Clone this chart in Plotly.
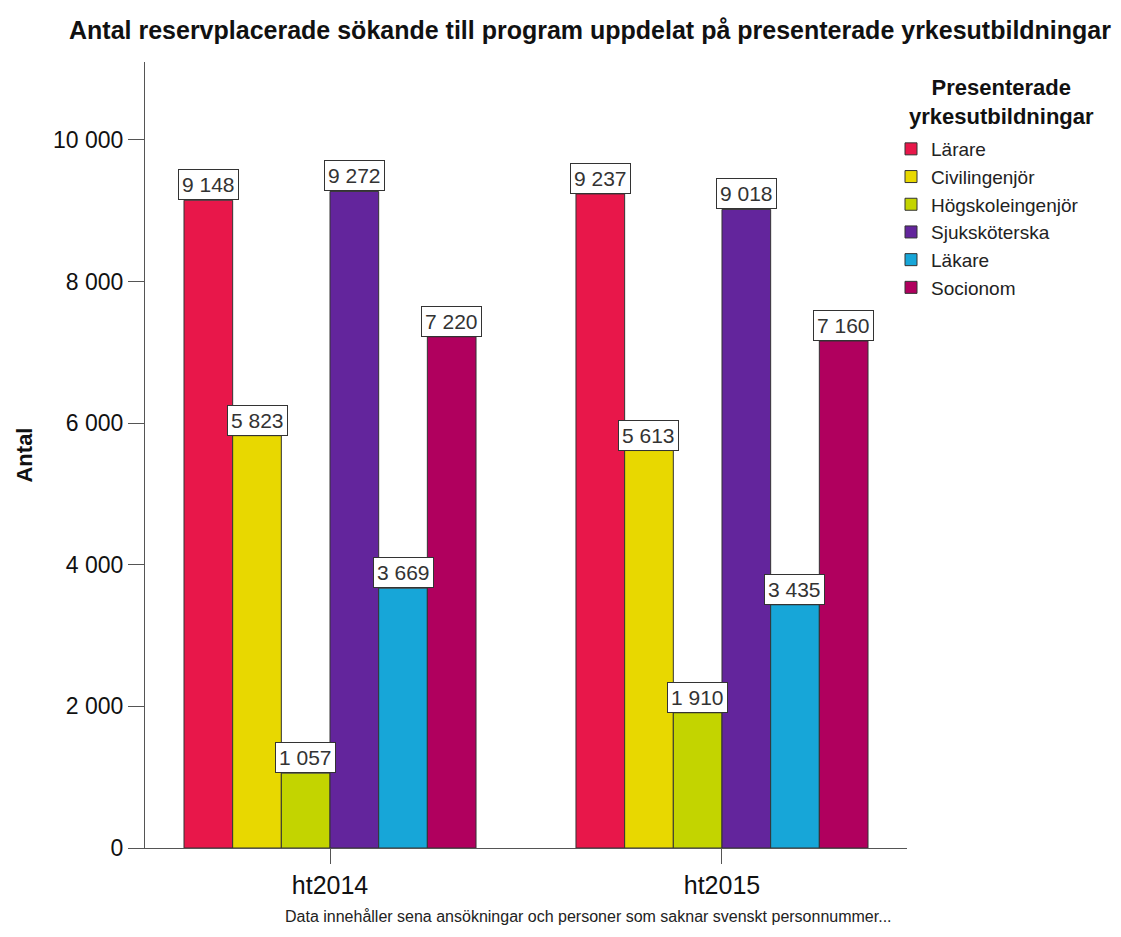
import plotly.graph_objects as go

categories = ["ht2014", "ht2015"]
series_names = ["Lärare", "Civilingenjör", "Högskoleingenjör", "Sjuksköterska", "Läkare", "Socionom"]
lärare = [9148, 9237]
civilingenjör = [5823, 5613]
högskoleingenjör = [1057, 1910]
sjuksköterska = [9272, 9018]
läkare = [3669, 3435]
socionom = [7220, 7160]
series_values = [lärare, civilingenjör, högskoleingenjör, sjuksköterska, läkare, socionom]
colors = ["#E8174A", "#E8D800", "#C3D400", "#63259C", "#17A6D8", "#B0005E"]
ytick_vals = [0, 2000, 4000, 6000, 8000, 10000]
ytick_text = ["0", "2 000", "4 000", "6 000", "8 000", "10 000"]

W, H = 1121, 937
L, R, T, B = 145, 214, 62, 89


def fmt(v):
    return f"{v:,}".replace(",", " ")


def px_to_paper_x(px):
    return (px - L) / (W - L - R)


def px_to_paper_y(py):
    return (H - B - py) / (H - T - B)


fig = go.Figure()
for name, vals, col in zip(series_names, series_values, colors):
    fig.add_trace(go.Bar(
        x=[0, 1], y=vals, name=name,
        marker=dict(color=col, line=dict(color="#333333", width=1)),
        hoverinfo="y+name",
    ))

group_width = 0.745
n = len(series_names)
bw = group_width / n
for i, vals in enumerate(series_values):
    for ci, v in enumerate(vals):
        xpos = ci - group_width / 2 + (i + 0.5) * bw
        fig.add_annotation(
            x=xpos, y=v, text=fmt(v), showarrow=False,
            yanchor="bottom", xanchor="center",
            font=dict(family="Arial", size=21, color="#333333"),
            bgcolor="white", bordercolor="#333333", borderwidth=1, borderpad=3,
        )

# footnote
fig.add_annotation(
    x=px_to_paper_x(588), y=px_to_paper_y(916), xref="paper", yref="paper",
    text="Data innehåller sena ansökningar och personer som saknar svenskt personnummer...",
    showarrow=False, font=dict(family="Arial", size=16, color="#222222"),
    xanchor="center", yanchor="middle",
)

# legend heading (centred, as in the reference)
fig.add_annotation(
    x=px_to_paper_x(1001), y=px_to_paper_y(102), xref="paper", yref="paper",
    text="<b>Presenterade<br>yrkesutbildningar</b>", align="center",
    showarrow=False, font=dict(family="Arial", size=22, color="#111111"),
    xanchor="center", yanchor="middle",
)

fig.update_layout(
    width=W, height=H,
    paper_bgcolor="white", plot_bgcolor="white",
    margin=dict(l=L, r=R, t=T, b=B, autoexpand=False),
    title=dict(
        text="<b>Antal reservplacerade sökande till program uppdelat på presenterade yrkesutbildningar</b>",
        x=590 / W, xanchor="center", y=1 - 30 / H, yanchor="middle",
        font=dict(family="Arial", size=25, color="#111111"),
    ),
    bargap=0.255, bargroupgap=0,
    barmode="group",
    font=dict(family="Arial", color="#222222"),
    xaxis=dict(
        tickmode="array", tickvals=[0, 1], ticktext=categories,
        range=[-0.472, 1.472], automargin=False,
        showline=True, linecolor="#555555", linewidth=1,
        ticks="outside", ticklen=15, tickcolor="#555555",
        tickfont=dict(family="Arial", size=25, color="#111111"),
        showgrid=False, zeroline=False,
    ),
    yaxis=dict(
        range=[0, 11100], automargin=False,
        tickmode="array", tickvals=ytick_vals, ticktext=ytick_text,
        showline=True, linecolor="#555555", linewidth=1,
        ticks="outside", ticklen=16, tickcolor="#555555",
        tickfont=dict(family="Arial", size=23, color="#111111"),
        showgrid=False, zeroline=False,
        title=dict(text="<b>Antal</b>", font=dict(family="Arial", size=22, color="#111111"), standoff=14),
    ),
    legend=dict(
        xref="container", yref="container",
        x=891 / W, xanchor="left", y=1 - 130 / H, yanchor="top",
        font=dict(family="Arial", size=19, color="#222222"),
        tracegroupgap=0, itemwidth=30,
    ),
)

fig.write_html("out.html", post_script="document.body.style.margin='0';",
               config={"displayModeBar": False})
